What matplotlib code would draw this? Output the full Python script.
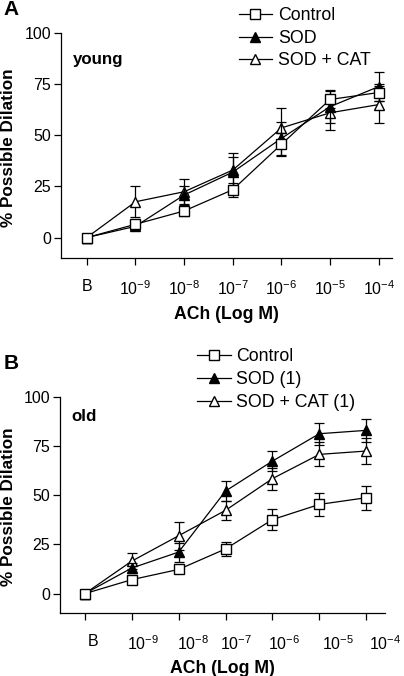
import numpy as np
import matplotlib
matplotlib.use('Agg')
import matplotlib.pyplot as plt
from matplotlib.ticker import FixedLocator, NullFormatter

plt.rcParams['font.family'] = ['Liberation Sans', 'DejaVu Sans']
plt.rcParams['mathtext.fontset'] = 'custom'
plt.rcParams['mathtext.rm'] = 'Liberation Sans'
plt.rcParams['mathtext.it'] = 'Liberation Sans:italic'
plt.rcParams['mathtext.bf'] = 'Liberation Sans:bold'

# x categories: baseline then ACh concentrations
doses = ['B', '$10^{-9}$', '$10^{-8}$', '$10^{-7}$', '$10^{-6}$', '$10^{-5}$', '$10^{-4}$']

# panel A - young
young_ctrl = [0, 6.5, 13.0, 23.4, 45.6, 67.5, 70.9]
young_ctrl_err = [0, 2.0, 2.5, 3.5, 5.5, 4.0, 4.0]
young_sod = [0, 5.5, 20.8, 32.0, 48.5, 64.0, 73.8]
young_sod_err = [0, 1.5, 4.2, 7.5, 8.0, 8.0, 7.0]
young_cat = [0, 17.5, 22.4, 33.0, 53.6, 61.0, 65.0]
young_cat_err = [0, 7.6, 6.3, 8.4, 9.7, 8.2, 9.0]

# panel B - old
old_ctrl = [0, 7.1, 12.3, 22.7, 37.6, 45.3, 48.7]
old_ctrl_err = [0, 1.5, 1.5, 3.6, 5.5, 6.0, 6.0]
old_sod = [0, 13.0, 21.1, 52.1, 67.3, 81.2, 82.9]
old_sod_err = [0, 2.5, 4.8, 5.1, 5.1, 5.6, 5.9]
old_cat = [0, 16.5, 29.4, 42.3, 58.4, 70.7, 72.4]
old_cat_err = [0, 4.1, 7.0, 4.7, 5.6, 6.1, 6.4]


def panel(ax, ctrl, ctrl_e, sod, sod_e, cat, cat_e, xlabelpad):
    x = np.arange(len(doses))
    kw = dict(color='black', lw=0.9, elinewidth=0.9, capsize=3.8, capthick=0.9, ms=7.5)
    h_cat = ax.errorbar(x, cat, yerr=cat_e, marker='^', mfc='white', mec='black', zorder=3, **kw)
    h_sod = ax.errorbar(x, sod, yerr=sod_e, marker='^', mfc='black', mec='black', zorder=4, **kw)
    h_ctrl = ax.errorbar(x, ctrl, yerr=ctrl_e, marker='s', mfc='white', mec='black', zorder=5, **kw)
    ax.set_xlim(-0.53, 6.27)
    ax.set_ylim(-10, 100)
    ax.set_yticks([0, 25, 50, 75, 100])
    ax.spines['top'].set_visible(False)
    ax.spines['right'].set_visible(False)
    for s in ('left', 'bottom'):
        ax.spines[s].set_linewidth(0.9)
    ax.tick_params(axis='y', direction='out', length=5, width=0.9, pad=2, labelsize=11.5)
    ax.tick_params(axis='x', direction='out', length=5, width=0.9, pad=10, labelsize=11.5)
    ax.set_xlabel('ACh (Log M)', fontsize=12.7, fontweight='bold', labelpad=xlabelpad)
    ax.set_ylabel('% Possible Dilation', fontsize=12.3, fontweight='bold')
    ax.yaxis.set_label_coords(-0.135, 0.49)
    # legend handles without the error bars
    return [h_ctrl[0], h_sod[0], h_cat[0]]


fig = plt.figure(figsize=(4.04, 6.76), dpi=100)

axA = fig.add_axes([0.151, 0.6183, 0.819, 0.3329])
hA = panel(axA, young_ctrl, young_ctrl_err, young_sod, young_sod_err,
           young_cat, young_cat_err, 6)
axA.set_xticks(np.arange(len(doses)))
axA.set_xticklabels(doses)
axA.text(0.035, 0.88, 'young', transform=axA.transAxes, fontsize=12.2,
         fontweight='bold', va='center')
fig.text(0.008, 1.0, 'A', fontsize=15, fontweight='bold', va='top')
fig.legend(hA, ['Control', 'SOD', 'SOD + CAT'], loc='upper left',
           bbox_to_anchor=(0.573, 1.0), frameon=False, fontsize=12.8,
           handlelength=1.9, handletextpad=0.3, labelspacing=0.32,
           borderaxespad=0)

axB = fig.add_axes([0.1485, 0.0927, 0.8045, 0.3205])
hB = panel(axB, old_ctrl, old_ctrl_err, old_sod, old_sod_err,
           old_cat, old_cat_err, 5)
# tick marks at the doses, labels printed a bit to the right (as in the original)
axB.set_xticks(np.arange(len(doses)))
axB.xaxis.set_major_formatter(NullFormatter())
lab_pos = [0.17, 1.25, 2.31, 3.23, 4.25, 5.39, 6.4]
axB.xaxis.set_minor_locator(FixedLocator(lab_pos))
axB.set_xticks(lab_pos, minor=True)
axB.set_xticklabels(doses, minor=True)
axB.tick_params(axis='x', which='minor', length=0, pad=15, labelsize=11.5)
axB.text(0.035, 0.91, 'old', transform=axB.transAxes, fontsize=12.2,
         fontweight='bold', va='center')
fig.text(0.008, 0.477, 'B', fontsize=15, fontweight='bold', va='top')
fig.legend(hB, ['Control', 'SOD (1)', 'SOD + CAT (1)'], loc='upper left',
           bbox_to_anchor=(0.470, 0.495), frameon=False, fontsize=12.8,
           handlelength=1.9, handletextpad=0.3, labelspacing=0.32,
           borderaxespad=0)

fig.savefig('out.png', dpi=100)
